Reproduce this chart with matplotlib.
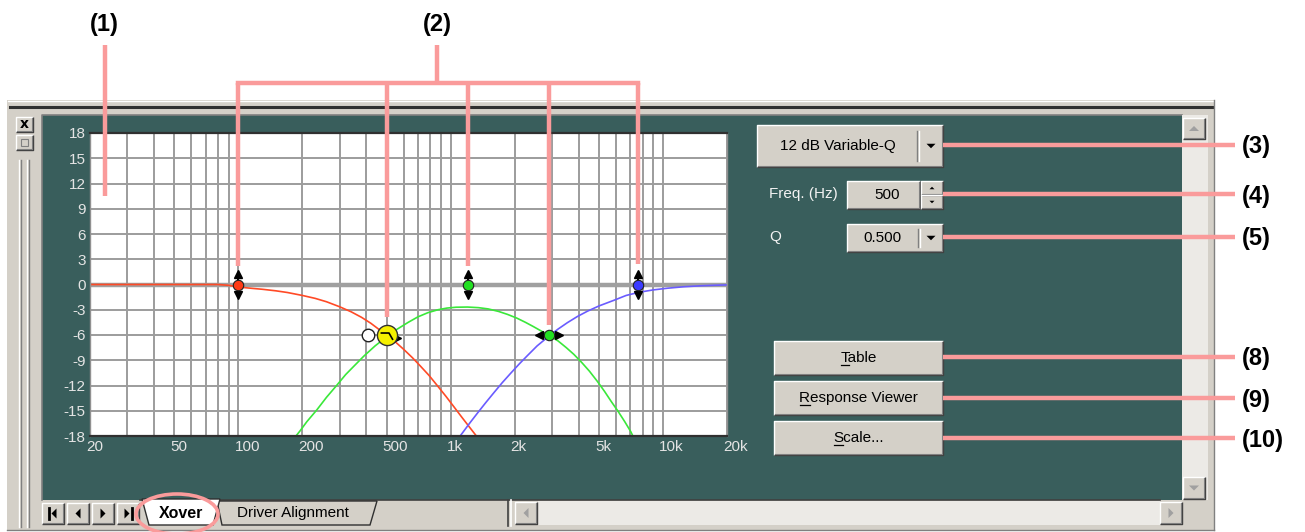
import matplotlib.pyplot as plt
from matplotlib.patches import Rectangle, Ellipse, Polygon
from matplotlib.path import Path
from matplotlib.transforms import blended_transform_factory, ScaledTranslation

plt.rcParams["font.family"] = ["Liberation Sans", "DejaVu Sans"]

W, H = 1305, 532

# response curves (Hz, dB)
low_freq = [20, 80, 90, 100, 115, 130, 150, 170, 200, 230, 260, 300, 340, 380,
            420, 460, 500, 550, 600, 660, 720, 790, 870, 950, 1040, 1130, 1230, 1330]
low_db = [0, 0, -0.1, -0.3, -0.45, -0.57, -0.75, -0.95, -1.3, -1.65, -2.05, -2.65,
          -3.25, -3.9, -4.6, -5.35, -6.0, -6.85, -7.7, -8.7, -9.7, -10.8, -12.1,
          -13.3, -14.6, -15.8, -17.0, -18.1]

mid_freq = [180, 195, 210, 234, 260, 290, 320, 350, 390, 440, 500, 560, 630, 700,
            780, 870, 960, 1060, 1200, 1350, 1500, 1680, 1850, 2050, 2250, 2450,
            2700, 2925, 3200, 3500, 3800, 4150, 4500, 4900, 5300, 5700, 6150, 6600,
            7050, 7300]
mid_db = [-18.5, -17.4, -16.3, -14.9, -13.4, -12.0, -10.7, -9.7, -8.5, -7.3, -6.2,
          -5.3, -4.5, -3.85, -3.35, -3.0, -2.8, -2.7, -2.68, -2.75, -2.9, -3.2,
          -3.55, -4.0, -4.5, -5.0, -5.6, -6.1, -6.7, -7.5, -8.3, -9.3, -10.3,
          -11.5, -12.7, -13.9, -15.1, -16.3, -17.5, -18.3]

high_freq = [1070, 1134, 1230, 1334, 1460, 1597, 1750, 1915, 2100, 2296, 2550, 2925,
             3200, 3545, 3950, 4404, 5000, 5877, 6700, 7714, 9000, 10500, 12500,
             15100, 17500, 20000]
high_db = [-18.5, -17.65, -16.45, -15.3, -14.05, -12.85, -11.65, -10.55, -9.45,
           -8.45, -7.3, -6.05, -5.3, -4.53, -3.8, -3.17, -2.54, -1.87, -1.3, -0.92,
           -0.64, -0.44, -0.27, -0.15, -0.09, -0.05]

# draggable points
handle_freq = [100, 1200, 7600]
handle_db = [0, 0, 0]
handle_colors = ["#ff3a14", "#22e022", "#3b3bff"]
xover_freq = [500, 2900]
xover_db = [-6.0, -6.0]

x_ticks = [20, 50, 100, 200, 500, 1000, 2000, 5000, 10000, 20000]
x_tick_labels = ["20", "50", "100", "200", "500", "1k", "2k", "5k", "10k", "20k"]
x_minor = [30, 40, 60, 70, 80, 90, 300, 400, 600, 700, 800, 900,
           3000, 4000, 6000, 7000, 8000, 9000]
y_ticks = list(range(-18, 19, 3))

filter_type = "12 dB Variable-Q"
freq_value = "500"
q_value = "0.500"
buttons = ["Table", "Response Viewer", "Scale..."]
tabs = ["Xover", "Driver Alignment"]
callouts_right = ["(3)", "(4)", "(5)", "(8)", "(9)", "(10)"]

TEAL = "#395e5c"
FACE = "#d4d0c8"
PINK = "#fa9b9b"
UI_TXT = "#f2f2f2"


def bevel(ax, x, y, w, h, face=FACE, sunken=False, z=2):
    ax.add_patch(Rectangle((x, y), w, h, facecolor=face, edgecolor="none", zorder=z))
    hi, lo = ("white", "#404040") if not sunken else ("#404040", "white")
    ax.plot([x, x, x + w], [y + h, y, y], color=hi, lw=1.0, zorder=z + 0.1,
            solid_capstyle="butt")
    ax.plot([x, x + w, x + w], [y + h, y + h, y], color=lo, lw=1.0, zorder=z + 0.1,
            solid_capstyle="butt")
    if not sunken:
        ax.plot([x + 1, x + w - 1, x + w - 1], [y + h - 1, y + h - 1, y + 1],
                color="#808080", lw=0.8, zorder=z + 0.1)


def tri(ax, cx, cy, s, direction, color="black", z=4):
    pts = {"down": [(cx - s, cy - s / 2), (cx + s, cy - s / 2), (cx, cy + s / 2)],
           "up": [(cx - s, cy + s / 2), (cx + s, cy + s / 2), (cx, cy - s / 2)],
           "left": [(cx + s / 2, cy - s), (cx + s / 2, cy + s), (cx - s / 2, cy)],
           "right": [(cx - s / 2, cy - s), (cx - s / 2, cy + s), (cx + s / 2, cy)]}
    ax.add_patch(Polygon(pts[direction], closed=True, facecolor=color,
                         edgecolor="none", zorder=z))


fig = plt.figure(figsize=(W / 100, H / 100), dpi=100)
fig.patch.set_facecolor("white")

bg = fig.add_axes([0, 0, 1, 1], zorder=0)
bg.set_xlim(0, W)
bg.set_ylim(H, 0)
bg.axis("off")

# window frame
bg.add_patch(Rectangle((7, 100), 1208, 430, facecolor=FACE, edgecolor="none", zorder=1))
bg.plot([8, 1214], [101, 101], color="white", lw=1, zorder=1.1)
bg.plot([10, 1212], [107, 107], color="#303030", lw=2.2, zorder=1.1)
bg.plot([1214, 1214], [100, 530], color="#808080", lw=1, zorder=1.1)
bg.plot([7, 1214], [530, 530], color="#808080", lw=1, zorder=1.1)
bg.add_patch(Rectangle((42, 115), 1140, 385, facecolor=TEAL, edgecolor="none", zorder=1.2))
bg.plot([42, 42, 1182], [500, 115, 115], color="#808080", lw=1.2, zorder=1.3)

# left side buttons and sizing bar
bevel(bg, 16, 117, 17, 15)
bg.text(24.5, 124.5, "x", ha="center", va="center", fontsize=10, fontweight="bold",
        family="DejaVu Sans", zorder=4)
bevel(bg, 16, 135, 17, 15)
bg.add_patch(Rectangle((21, 139), 7, 7, facecolor="none", edgecolor="#808080",
                       lw=0.8, zorder=4))
for xx, cc in [(19, "white"), (21, "#808080"), (27, "white"), (29, "#808080")]:
    bg.plot([xx, xx], [160, 527], color=cc, lw=1, zorder=1.5)

# vertical scrollbar
bg.add_patch(Rectangle((1182, 115), 26, 385, facecolor="#eceae6", edgecolor="none", zorder=1.3))
bevel(bg, 1183, 118, 22, 21)
tri(bg, 1194, 128.5, 5, "up", color="#a0a0a0")
bevel(bg, 1183, 477, 22, 22)
tri(bg, 1194, 488, 5, "down", color="#a0a0a0")

# bottom tab bar
nav_x = [53, 78, 103, 128]
for cx in nav_x:
    bevel(bg, cx - 11, 503, 22, 21)
tri(bg, 54, 513.5, 5, "left")
bg.plot([49, 49], [508, 519], color="black", lw=2, zorder=4)
tri(bg, 78, 513.5, 5, "left")
tri(bg, 103, 513.5, 5, "right")
tri(bg, 127, 513.5, 5, "right")
bg.plot([132, 132], [508, 519], color="black", lw=2, zorder=4)

bg.plot([140, 1160], [500, 500], color="#404040", lw=1.2, zorder=2)
# inactive tab
bg.add_patch(Polygon([(217, 501), (377, 501), (370, 525), (222, 525)], closed=True,
                     facecolor=FACE, edgecolor="#303030", lw=1, zorder=3))
bg.text(293, 513.5, tabs[1], ha="center", va="center", fontsize=11, color="black", zorder=4)
# active tab
bg.add_patch(Polygon([(142, 499), (220, 499), (213, 525), (149, 525)], closed=True,
                     facecolor="white", edgecolor="#303030", lw=1, zorder=3.5))
bg.text(181, 513.5, tabs[0], ha="center", va="center", fontsize=11.5,
        fontweight="bold", color="black", zorder=4)
# splitter + horizontal scrollbar
bg.plot([508, 508], [500, 526], color="#404040", lw=1.2, zorder=2)
bg.plot([511, 511], [500, 526], color="white", lw=1.2, zorder=2)
bg.add_patch(Rectangle((538, 501), 622, 24, facecolor="#eceae6", edgecolor="none", zorder=1.5))
bevel(bg, 515, 502, 22, 22)
tri(bg, 526, 513, 5, "left", color="#a0a0a0")
bevel(bg, 1160, 502, 22, 22)
tri(bg, 1171, 513, 5, "right", color="#a0a0a0")

# right hand controls
bevel(bg, 757, 125, 186, 42)
bg.text(838, 146, filter_type, ha="center", va="center", fontsize=11, color="black", zorder=4)
bg.plot([917, 917], [131, 161], color="#808080", lw=1, zorder=4)
bg.plot([918.5, 918.5], [131, 161], color="white", lw=1, zorder=4)
tri(bg, 931, 146, 4.5, "down")

bg.text(769, 194, "Freq. (Hz)", ha="left", va="center", fontsize=11, color=UI_TXT, zorder=4)
bevel(bg, 847, 181, 73, 28)
bg.text(887, 195, freq_value, ha="center", va="center", fontsize=11, color="black", zorder=4)
bevel(bg, 921, 181, 22, 14)
tri(bg, 932, 188, 2.5, "up")
bevel(bg, 921, 195, 22, 14)
tri(bg, 932, 202, 2.5, "down")

bg.text(769, 237, "Q", ha="left", va="center", fontsize=11, color=UI_TXT, zorder=4)
bevel(bg, 847, 224, 96, 28)
bg.text(882, 238, q_value, ha="center", va="center", fontsize=11, color="black", zorder=4)
bg.plot([918, 918], [229, 247], color="#808080", lw=1, zorder=4)
bg.plot([919.5, 919.5], [229, 247], color="white", lw=1, zorder=4)
tri(bg, 931, 238, 4.5, "down")

button_rows = [(341, 34), (381, 34), (421, 34)]
button_texts = []
for label, (top, hgt) in zip(buttons, button_rows):
    bevel(bg, 774, top, 169, hgt)
    t = bg.text(858.5, top + hgt / 2, label, ha="center", va="center", fontsize=11,
                color="black", zorder=4)
    button_texts.append(t)

# plot area
ax = fig.add_axes([90 / W, 1 - 436 / H, 637 / W, 303 / H], zorder=1)
ax.set_facecolor("white")
ax.set_xscale("log")
ax.set_xlim(20, 20000)
ax.set_ylim(-18, 18)
ax.set_xticks(x_ticks)
ax.set_xticklabels(x_tick_labels)
ax.set_xticks(x_minor, minor=True)
ax.set_xticklabels([], minor=True)
ax.set_yticks(y_ticks)
ax.set_yticklabels([str(v) for v in y_ticks])
ax.tick_params(which="both", length=0, labelsize=11, labelcolor="#e4e4e4")
ax.tick_params(axis="x", pad=3)
ax.tick_params(axis="y", pad=3)
for lab in ax.get_xticklabels():
    lab.set_horizontalalignment("left")
    lab.set_transform(lab.get_transform() + ScaledTranslation(-4 / 100, 0, fig.dpi_scale_trans))
ax.grid(True, which="both", color="#9c9c9c", lw=1.4, zorder=0.5)
ax.set_axisbelow(True)
for side in ["top", "bottom"]:
    ax.spines[side].set_color("#303030")
    ax.spines[side].set_linewidth(1.6)
for side in ["left", "right"]:
    ax.spines[side].set_color("#909090")
    ax.spines[side].set_linewidth(1.0)
ax.axhline(0, color="#a0a0a0", lw=3.2, zorder=1)

ax.plot(low_freq, low_db, color="#ff4a26", lw=1.2, zorder=2)
ax.plot(mid_freq, mid_db, color="#3ae83a", lw=1.2, zorder=2)
ax.plot(high_freq, high_db, color="#6a5cff", lw=1.2, zorder=2)

# level handles with up/down arrows
for f, d, c in zip(handle_freq, handle_db, handle_colors):
    ax.plot([f, f], [d - 1.2, d + 1.2], color="black", lw=1.4, zorder=5, clip_on=False)
    ax.plot([f], [d + 1.25], marker="^", ms=5.5, color="black", zorder=5, clip_on=False)
    ax.plot([f], [d - 1.25], marker="v", ms=5.5, color="black", zorder=5, clip_on=False)
    ax.plot([f], [d], marker="o", ms=7.5, mfc=c, mec="#202020", mew=0.8, zorder=6,
            clip_on=False)

# selected crossover point (yellow) with ghost marker
f0, d0 = xover_freq[0], xover_db[0]
ax.plot([f0 / 1.22], [d0], marker="o", ms=9, mfc="white", mec="#202020", mew=1, zorder=5)
ax.plot([f0 * 1.1], [d0 - 0.3], marker=">", ms=6.5, color="black", zorder=5)
ax.plot([f0], [d0], marker="o", ms=14.5, mfc="#f5f000", mec="#303030", mew=1, zorder=6)
hook = Path([(-0.7, 0.25), (0.15, 0.25), (0.55, -0.45)],
            [Path.MOVETO, Path.LINETO, Path.LINETO])
ax.plot([f0], [d0], marker=hook, ms=10, mfc="none", mec="black", mew=1.2, zorder=7)

# second crossover point with left/right arrows
f1, d1 = xover_freq[1], xover_db[1]
ax.plot([f1 / 1.1, f1 * 1.1], [d1, d1], color="black", lw=1.4, zorder=5)
ax.plot([f1 / 1.11], [d1], marker="<", ms=5.5, color="black", zorder=5)
ax.plot([f1 * 1.11], [d1], marker=">", ms=5.5, color="black", zorder=5)
ax.plot([f1], [d1], marker="o", ms=7.5, mfc="#22e022", mec="#202020", mew=0.8, zorder=6)

# underline mnemonics on buttons
fig.canvas.draw()
renderer = fig.canvas.get_renderer()
inv = bg.transData.inverted()
for t in button_texts:
    bb = t.get_window_extent(renderer)
    tmp = bg.text(0, 0, t.get_text()[0], fontsize=t.get_fontsize())
    w1 = tmp.get_window_extent(renderer).width
    tmp.remove()
    x0, _ = inv.transform((bb.x0, bb.y0))
    x1, _ = inv.transform((bb.x0 + w1, bb.y0))
    _, yc = t.get_position()
    bg.plot([x0 + 0.5, x1 - 0.5], [yc + 7, yc + 7], color="black", lw=0.9, zorder=4)

# callout overlay
ov = fig.add_axes([0, 0, 1, 1], zorder=3)
ov.set_xlim(0, W)
ov.set_ylim(H, 0)
ov.axis("off")
ov.patch.set_alpha(0)

ov.text(104, 25, "(1)", ha="center", va="center", fontsize=17, fontweight="bold")
ov.text(437, 25, "(2)", ha="center", va="center", fontsize=17, fontweight="bold")
ov.plot([105, 105], [45, 196], color=PINK, lw=3.2, solid_capstyle="butt")
ov.plot([437, 437], [45, 83], color=PINK, lw=3.2, solid_capstyle="butt")

mixed = blended_transform_factory(ax.transData, ov.transData)
point_freq = sorted(handle_freq + xover_freq)
line_ends = [266, 317, 266, 325, 264]
ov.plot([point_freq[0], point_freq[-1]], [83, 83], color=PINK, lw=3.2,
        transform=mixed, solid_capstyle="projecting")
for f, yend in zip(point_freq, line_ends):
    ov.plot([f, f], [83, yend], color=PINK, lw=3.2, transform=mixed,
            solid_capstyle="butt")

right_rows = [145, 194, 237, 357, 398, 438]
for lab, yy in zip(callouts_right, right_rows):
    ov.plot([943, 1235], [yy, yy], color=PINK, lw=3.2, solid_capstyle="butt")
    ov.text(1242, yy + 2, lab, ha="left", va="center", fontsize=17, fontweight="bold")

ov.add_patch(Ellipse((177, 514), 82, 40, facecolor="none", edgecolor=PINK, lw=2.6))

fig.savefig("out.png", dpi=100)
